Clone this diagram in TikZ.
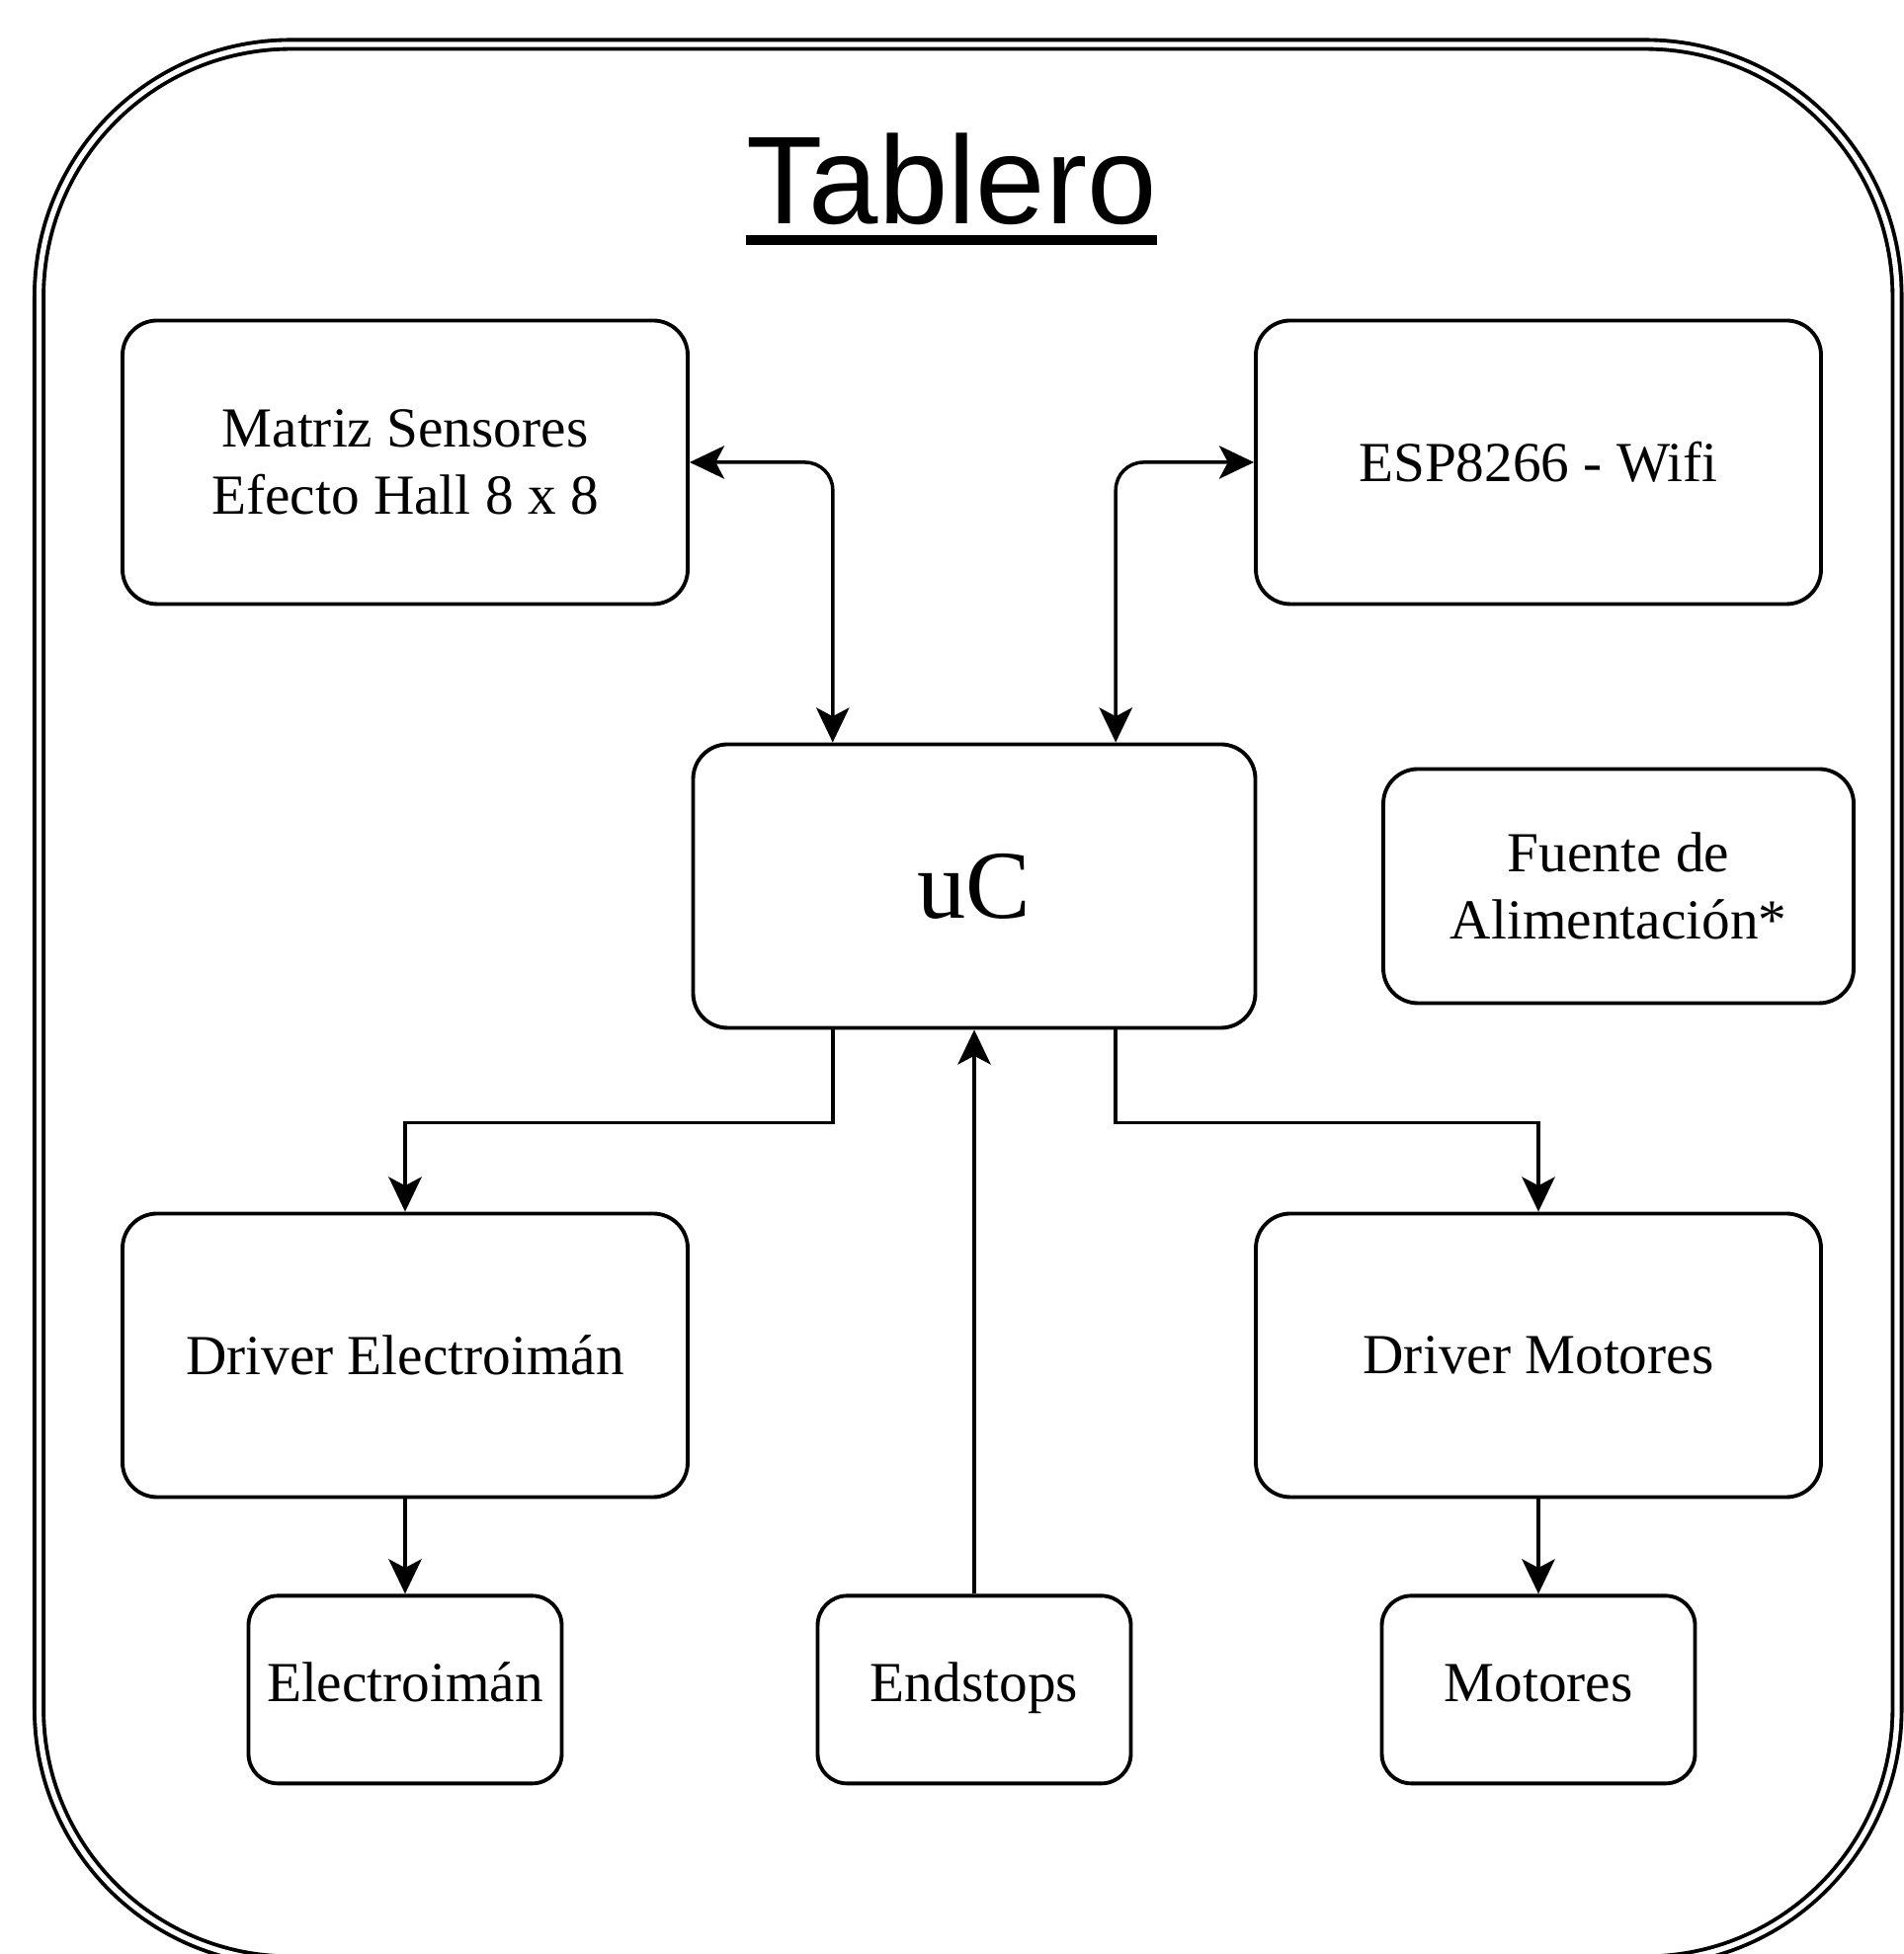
\documentclass[tikz,border=0pt]{standalone}
\usepackage{fontspec}
\setmainfont{Liberation Serif}
\newfontfamily\titlefont{Liberation Sans}
\usetikzlibrary{calc}
\usetikzlibrary{positioning}
\usetikzlibrary{arrows.meta}

\tikzset{
	block/.style={draw=black, line width=1.1pt, rounded corners=0.35cm, align=center, inner sep=0pt,
		minimum width=5.72cm, minimum height=2.87cm, font=\fontsize{16.3}{19.4}\selectfont},
	smallblock/.style={block, rounded corners=0.3cm, minimum width=3.17cm, minimum height=1.90cm,
		text height=1.9ex, text depth=0.45ex},
	tip/.style={line width=1pt},
	arr/.style={tip, -{Stealth[length=10pt, width=9.5pt, inset=2.5pt]}},
	biarr/.style={tip, {Stealth[length=10pt, width=9.5pt, inset=2.5pt]}-{Stealth[length=10pt, width=9.5pt, inset=2.5pt]}},
}

\begin{document}
\begin{tikzpicture}
	\useasboundingbox (0,0) rectangle (19.26,19.78);
	% marco del tablero
	\draw[double, double distance=1.5pt, line width=1.1pt, rounded corners=2.55cm] (0.395,-0.07) rectangle (19.20,19.33);
	\node[font=\titlefont\fontsize{36}{40}\selectfont, anchor=base, inner sep=0pt] (title) at (9.63,17.51) {Tablero};
	\draw[line width=2.6pt] ($(title.base west)+(0,-0.16)$) -- ($(title.base east)+(0,-0.16)$);
	% bloques
	\node[block] (matriz) at (4.10,15.10) {Matriz Sensores\\Efecto Hall 8 x 8};
	\node[block] (esp) at (15.57,15.10) {ESP8266 - Wifi};
	\node[block, minimum width=5.69cm, font=\fontsize{28}{32}\selectfont] (uc) at (9.86,10.81) {uC};
	\node[block, minimum width=4.76cm, minimum height=2.37cm] (fuente) at (16.38,10.81) {Fuente de\\Alimentación*};
	\node[block] (drve) at (4.10,6.06) {Driver Electroimán};
	\node[block] (drvm) at (15.57,6.06) {Driver Motores};
	\node[smallblock, below=0.96cm of drve] (electro) {Electroimán};
	\node[smallblock, below=0.96cm of drvm] (motores) {Motores};
	\node[smallblock] (endstops) at (electro -| uc) {Endstops};
	% conexiones
	\draw[biarr, rounded corners=0.28cm] (matriz.east) -| ($(uc.north west)!0.25!(uc.north east)$);
	\draw[biarr, rounded corners=0.28cm] ($(uc.north west)!0.75!(uc.north east)$) |- (esp.west);
	\draw[arr] ($(uc.south west)!0.25!(uc.south east)$) -- ++(0,-0.94) -| (drve.north);
	\draw[arr] ($(uc.south west)!0.75!(uc.south east)$) -- ++(0,-0.94) -| (drvm.north);
	\draw[arr] (endstops.north) -- (uc.south);
	\draw[arr] (drve.south) -- (electro.north);
	\draw[arr] (drvm.south) -- (motores.north);
\end{tikzpicture}
\end{document}
